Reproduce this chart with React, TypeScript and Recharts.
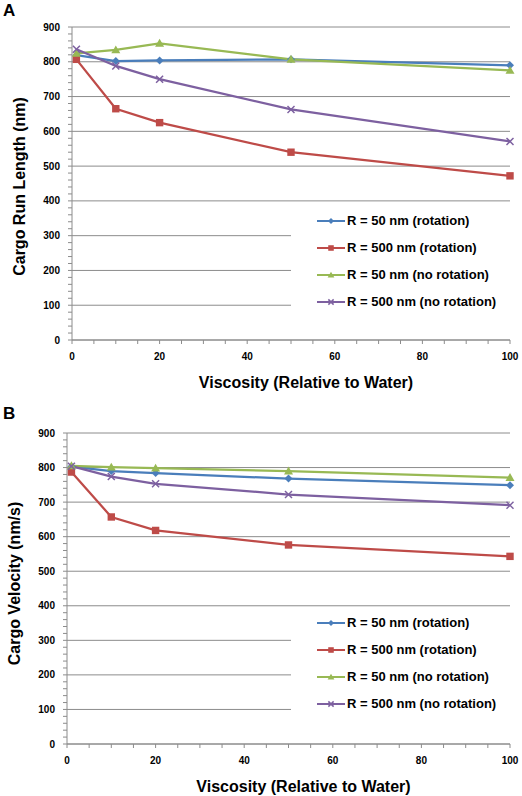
import React from "react"
import {
  LineChart,
  Line,
  XAxis,
  YAxis,
  CartesianGrid,
  Legend,
} from "recharts"

// viscosity relative to water (x values)
const VISCOSITY = [1, 10, 20, 50, 100]

// panel A: cargo run length (nm)
const RUN_R50_ROT = [819, 802, 804, 807, 790]
const RUN_R500_ROT = [807, 665, 625, 540, 472]
const RUN_R50_NOROT = [824, 834, 853, 807, 775]
const RUN_R500_NOROT = [836, 788, 750, 663, 571]

// panel B: cargo velocity (nm/s)
const VEL_R50_ROT = [803, 790, 784, 768, 749]
const VEL_R500_ROT = [787, 657, 618, 576, 543]
const VEL_R50_NOROT = [805, 801, 798, 790, 771]
const VEL_R500_NOROT = [804, 774, 753, 722, 691]

const SERIES_NAMES = [
  "R = 50 nm (rotation)",
  "R = 500 nm (rotation)",
  "R = 50 nm (no rotation)",
  "R = 500 nm (no rotation)",
]

const X_TICK_LABELS = [0, 20, 40, 60, 80, 100]
const Y_TICK_LABELS = [0, 100, 200, 300, 400, 500, 600, 700, 800, 900]

// minor ticks every 5 on x, every 20 on y
const X_TICKS = Array.from({ length: 21 }, (_, i) => i * 5)
const Y_TICKS = Array.from({ length: 46 }, (_, i) => i * 20)

const COLORS = ["#4a7ebb", "#be4b48", "#98b954", "#7d60a0"]
const SHAPES = ["diamond", "square", "triangle", "cross"]
const AXIS_GRAY = "#8c8c8c"
const FONT = '"Liberation Sans", Arial, sans-serif'

function Marker({ cx, cy, shape, color, s = 1 }: any) {
  if (cx == null || cy == null) return null
  if (shape === "diamond") {
    const r = 4 * s
    return (
      <polygon
        points={`${cx},${cy - r} ${cx + r},${cy} ${cx},${cy + r} ${cx - r},${cy}`}
        fill={color}
      />
    )
  }
  if (shape === "square") {
    const r = 3.7 * s
    return <rect x={cx - r} y={cy - r} width={2 * r} height={2 * r} fill={color} />
  }
  if (shape === "triangle") {
    const r = 4.5 * s
    return (
      <polygon
        points={`${cx},${cy - r} ${cx + r},${cy + r * 0.75} ${cx - r},${cy + r * 0.75}`}
        fill={color}
      />
    )
  }
  const r = 3.5 * s
  return (
    <g stroke={color} strokeWidth={1.5}>
      <line x1={cx - r} y1={cy - r} x2={cx + r} y2={cy + r} />
      <line x1={cx - r} y1={cy + r} x2={cx + r} y2={cy - r} />
    </g>
  )
}

function LegendBox() {
  return (
    <div style={{ fontFamily: FONT, fontWeight: "bold", fontSize: 13, color: "#000" }}>
      {SERIES_NAMES.map((name, i) => (
        <div key={i} style={{ height: 27, display: "flex", alignItems: "center" }}>
          <svg width={54} height={12} style={{ display: "block" }}>
            <line x1={26} y1={6} x2={54} y2={6} stroke={COLORS[i]} strokeWidth={2} />
            <Marker cx={40} cy={6} shape={SHAPES[i]} color={COLORS[i]} s={0.75} />
          </svg>
          <span style={{ marginLeft: 2, whiteSpace: "nowrap" }}>{name}</span>
        </div>
      ))}
    </div>
  )
}

function Panel({ series, yTitle, width, height, top, left, bottom, yTitleX, yTitleShift, legendTop, titleOffset }: any) {
  const data = VISCOSITY.map((x, i) => ({
    x,
    s0: series[0][i],
    s1: series[1][i],
    s2: series[2][i],
    s3: series[3][i],
  }))

  return (
    <LineChart
      width={width}
      height={height}
      data={data}
      margin={{ top, right: 12, left: 0, bottom: 0 }}
      style={{ fontFamily: FONT }}
    >
      <CartesianGrid
        vertical={false}
        horizontal={(p: any) =>
          p.index % 5 === 0 ? (
            <line key={p.key ?? p.index} x1={p.x1} x2={p.x2} y1={p.y1} y2={p.y2} stroke={AXIS_GRAY} strokeWidth={1} />
          ) : (
            <g key={p.key ?? p.index} />
          )
        }
      />
      <XAxis
        dataKey="x"
        type="number"
        domain={[0, 100]}
        ticks={X_TICKS}
        interval={0}
        height={bottom}
        stroke={AXIS_GRAY}
        tickSize={4}
        tickMargin={9}
        tick={(p: any) =>
          X_TICK_LABELS.includes(p.payload.value) ? (
            <text x={p.x} y={p.y} dy="0.71em" textAnchor="middle" fontSize={10} fontWeight="bold" fill="#000" fontFamily={FONT}>
              {p.payload.value}
            </text>
          ) : (
            <g />
          )
        }
        label={{
          value: "Viscosity (Relative to Water)",
          position: "insideBottom",
          offset: titleOffset,
          dx: 15,
          style: { fontSize: 16, fontWeight: "bold", fill: "#000", fontFamily: FONT },
        }}
      />
      <YAxis
        type="number"
        domain={[0, 900]}
        ticks={Y_TICKS}
        interval={0}
        width={left}
        stroke={AXIS_GRAY}
        tickSize={4}
        tickMargin={8}
        tick={(p: any) =>
          Y_TICK_LABELS.includes(p.payload.value) ? (
            <text x={p.x} y={p.y} dy="0.35em" textAnchor="end" fontSize={10} fontWeight="bold" fill="#000" fontFamily={FONT}>
              {p.payload.value}
            </text>
          ) : (
            <g />
          )
        }
        label={{
          content: (lp: any) => {
            const vb = lp.viewBox || {}
            const cy = vb.y + vb.height / 2 + yTitleShift
            return (
              <text
                x={yTitleX}
                y={cy}
                transform={`rotate(-90 ${yTitleX} ${cy})`}
                textAnchor="middle"
                fontSize={16}
                fontWeight="bold"
                fill="#000"
                fontFamily={FONT}
              >
                {yTitle}
              </text>
            )
          },
        }}
      />
      <Legend
        layout="vertical"
        align="center"
        verticalAlign="middle"
        content={() => <LegendBox />}
        wrapperStyle={{ left: 291, top: legendTop, width: 231, height: 108, background: "#fff" }}
      />
      {[0, 1, 2, 3].map((i) => (
        <Line
          key={i}
          type="linear"
          dataKey={`s${i}`}
          name={SERIES_NAMES[i]}
          stroke={COLORS[i]}
          strokeWidth={2.25}
          isAnimationActive={false}
          dot={(d: any) => (
            <Marker key={`${i}-${d.index}`} cx={d.cx} cy={d.cy} shape={SHAPES[i]} color={COLORS[i]} />
          )}
          activeDot={false}
        />
      ))}
    </LineChart>
  )
}

const panelLabel: React.CSSProperties = {
  position: "absolute",
  left: 3,
  fontFamily: FONT,
  fontWeight: "bold",
  fontSize: 17,
  lineHeight: "17px",
}

export default function App() {
  return (
    <div style={{ position: "relative", width: 522, height: 796, background: "#fff" }}>
      <style>{`body{margin:0;background:#fff}`}</style>

      {/* Panel A */}
      <div style={{ ...panelLabel, top: 2 }}>A</div>
      <div style={{ position: "absolute", left: 0, top: 0 }}>
        <Panel
          series={[RUN_R50_ROT, RUN_R500_ROT, RUN_R50_NOROT, RUN_R500_NOROT]}
          yTitle="Cargo Run Length (nm)"
          width={522}
          height={400}
          top={27}
          left={72}
          bottom={60}
          yTitleX={25}
          yTitleShift={3}
          legendTop={207}
          titleOffset={12}
        />
      </div>

      {/* Panel B */}
      <div style={{ ...panelLabel, top: 405 }}>B</div>
      <div style={{ position: "absolute", left: 0, top: 400 }}>
        <Panel
          series={[VEL_R50_ROT, VEL_R500_ROT, VEL_R50_NOROT, VEL_R500_NOROT]}
          yTitle="Cargo Velocity (nm/s)"
          width={522}
          height={396}
          top={33}
          left={67}
          bottom={52}
          yTitleX={20}
          yTitleShift={-5}
          legendTop={209}
          titleOffset={4}
        />
      </div>
    </div>
  )
}
